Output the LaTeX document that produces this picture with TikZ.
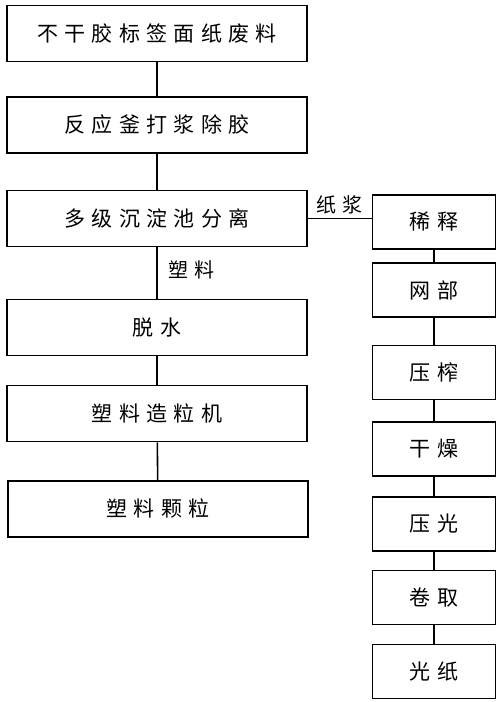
\documentclass[tikz,border=0pt]{standalone}
\usepackage{fontspec}
\newfontfamily\cjk[LetterSpace=30]{Noto Sans CJK SC}
\usetikzlibrary{positioning}
\tikzset{
	lbox/.style={draw=black,line width=1.6pt,minimum width=300pt,minimum height=56pt,inner sep=0pt,font=\cjk\fontsize{21}{24}\selectfont},
	rbox/.style={draw=black,line width=1.6pt,minimum width=123pt,minimum height=54pt,inner sep=0pt,font=\cjk\fontsize{21}{24}\selectfont},
	tlabel/.style={inner sep=1pt,font=\cjk\fontsize{20}{22}\selectfont},
	link/.style={line width=1.6pt}}
\begin{document}
\begin{tikzpicture}[x=1pt,y=-1pt]
	\useasboundingbox (0,0) rectangle (500,702);
	% left column
	\node (A) at (157,33.5) [lbox] {不干胶标签面纸废料};
	\node (B) at (157,125) [lbox] {反应釜打浆除胶};
	\node (C) at (157,218.5) [lbox] {多级沉淀池分离};
	\node (D) at (157,327.5) [lbox] {脱水};
	\node (E) at (157,413.5) [lbox] {塑料造粒机};
	\node (F) at (158,509) [lbox] {塑料颗粒};
	% right column
	\node (R1) at (434,222) [rbox] {稀释};
	\node (R2) at (434,290) [rbox] {网部};
	\node (R3) at (434,372.5) [rbox] {压榨};
	\node (R4) at (434,449) [rbox] {干燥};
	\node (R5) at (434,524) [rbox] {压光};
	\node (R6) at (434,597.5) [rbox] {卷取};
	\node (R7) at (434,671.5) [rbox] {光纸};
	\node (sl) at (191,270) [tlabel] {塑料};
	\node (zj) at (339,205) [tlabel] {纸浆};
	\draw [link] (A) -- (B);
	\draw [link] (B) -- (C);
	\draw [link] (C) -- (D);
	\draw [link] (D) -- (E);
	\draw [link] (E) -- (F);
	\draw [link] (C.east) -- (C.east -| R1.west);
	\draw [link] (R1) -- (R2);
	\draw [link] (R2) -- (R3);
	\draw [link] (R3) -- (R4);
	\draw [link] (R4) -- (R5);
	\draw [link] (R5) -- (R6);
	\draw [link] (R6) -- (R7);
\end{tikzpicture}
\end{document}
